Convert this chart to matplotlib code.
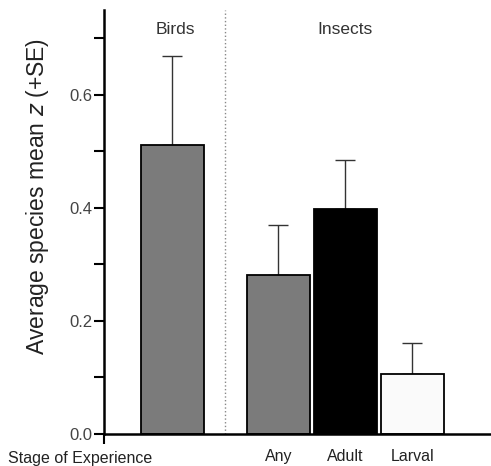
import matplotlib.pyplot as plt

plt.rcParams['font.family'] = ['Liberation Sans', 'DejaVu Sans']

# values
groups = ['Birds', 'Insects']
stages = ['', 'Any', 'Adult', 'Larval']
means = [0.512, 0.281, 0.398, 0.106]
errors = [0.157, 0.089, 0.087, 0.055]
colors = ['#7b7b7b', '#7b7b7b', '#000000', '#fafafa']
y_ticks = [0.0, 0.2, 0.4, 0.6]
y_minor = [0.1, 0.3, 0.5, 0.7]

pos = [0, 1.58, 2.58, 3.58]

fig = plt.figure(figsize=(4.91, 4.66), dpi=100)
ax = fig.add_axes([0.2118, 0.0687, 0.7862, 0.9098])

ax.bar(pos, means, width=0.94, color=colors, edgecolor='black', linewidth=1.3, zorder=2)
ax.errorbar(pos, means, yerr=[[0] * len(means), errors], fmt='none',
            ecolor='#333333', elinewidth=1, capsize=7.5, capthick=1, zorder=1)

ax.axvline(0.78, color='#888888', linestyle=':', linewidth=1)

ax.set_xlim(-1.02, 4.74)
ax.set_ylim(0, 0.75)

for s in ['top', 'right']:
    ax.spines[s].set_visible(False)
for s in ['left', 'bottom']:
    ax.spines[s].set_linewidth(1.8)

ax.set_yticks(y_ticks)
ax.set_yticklabels([f'{v:.1f}' for v in y_ticks], fontsize=12, color='#444444')
ax.set_yticks(y_minor, minor=True)
ax.tick_params(axis='y', which='both', length=7.5, width=1.5, pad=1)

ax.set_xticks(pos[1:])
ax.set_xticklabels(stages[1:], fontsize=11.5, color='#222222')
ax.tick_params(axis='x', which='major', length=0, pad=11)
ax.set_xticks([-1.02], minor=True)
ax.tick_params(axis='x', which='minor', length=7, width=1.5)

ax.set_ylabel(r'Average species mean $z$ (+SE)', fontsize=16.5, color='#222222')
ax.yaxis.set_label_coords(-0.137, 0.56)

ax.text(0.04, 0.715, groups[0], ha='center', va='center', fontsize=12.5, color='#333333')
ax.text(2.58, 0.715, groups[1], ha='center', va='center', fontsize=12.5, color='#333333')

fig.text(8 / 491, 1 - 458 / 466, 'Stage of Experience', ha='left', va='center',
         fontsize=11.5, color='#222222')

fig.savefig('out.png', dpi=100)
